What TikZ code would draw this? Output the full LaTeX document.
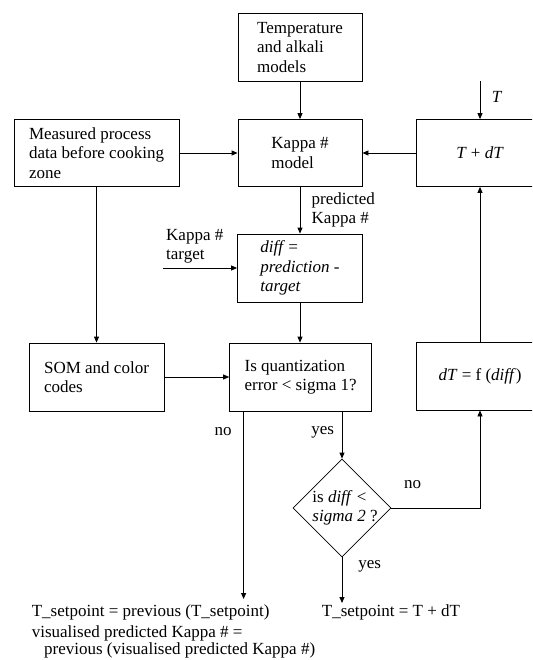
\documentclass[tikz,border=0pt]{standalone}
\usepackage{fontspec}
\setmainfont{Liberation Serif}
\usetikzlibrary{arrows.meta, positioning, shapes.geometric}
\newcommand{\flowfont}{\fontsize{17pt}{19.5pt}\selectfont}

\begin{document}
\begin{tikzpicture}[x=1pt, y=-1pt,
  block/.style={draw, line width=0.8pt, align=left, font=\flowfont, inner sep=2pt},
  decision/.style={draw, diamond, line width=0.8pt, minimum width=98pt, minimum height=98pt, inner sep=0pt},
  lbl/.style={font=\flowfont, inner sep=1pt},
  arr/.style={line width=0.8pt, -{Triangle[length=6pt, width=5pt]}}]
  \useasboundingbox (0,0) rectangle (532,660);
  \clip (0,0) rectangle (532,660);

  % Model blocks
  \node[block, minimum width=124pt, minimum height=68pt] (temp) at (300, 47.5) {Temperature\\and alkali\\models};
  \node[block, minimum width=124pt, minimum height=67pt] (kappa) at (300, 153) {Kappa \#\\model};
  \node[block, minimum width=165pt, minimum height=67pt] (meas) at (96.5, 153) {Measured process\\data before cooking\\zone};
  \node[block, minimum width=128pt, minimum height=67pt] (tdt) at (480, 153) {\textit{T} + \textit{dT}};

  % Difference and checks
  \node[block, minimum width=125pt, minimum height=68pt, font=\flowfont\itshape] (diff) at (300, 268) {diff =\\prediction -\\target};
  \node[block, minimum width=135pt, minimum height=68pt] (som) at (96.5, 377) {SOM and color\\codes};
  \node[block, minimum width=142pt, minimum height=68pt] (quant) at (300.6, 377) {Is quantization\\error < sigma 1?};
  \node[block, minimum width=128pt, minimum height=68pt] (dtf) at (480, 376) {\textit{dT} = f (\textit{diff})};
  \node[decision] (dec) at (342, 508) {};
  \node[lbl, align=left] (dectext) at ([xshift=3pt]dec.center) {is \textit{diff} <\\\textit{sigma 2} ?};

  % Results
  \node[lbl, anchor=north west, align=left] (noprev) at (30.6, 603) {T\_setpoint = previous (T\_setpoint)\\[1.5pt]visualised predicted Kappa \# =\\[-2.5pt]\hspace*{12.4pt}previous (visualised predicted Kappa \#)};
  \node[lbl, anchor=north west] (setdt) at (320.7, 603) {T\_setpoint = T + dT};

  % Labels
  \node[lbl] (tlbl) at (497, 97) {\textit{T}};
  \node[lbl, align=left, anchor=west] (pred) at (310.5, 210) {predicted\\Kappa \#};
  \node[lbl, align=left, anchor=west] (target) at (165, 246.5) {Kappa \#\\target};
  \node[lbl] (no1) at (223, 432) {no};
  \node[lbl] (yes1) at (322.7, 432) {yes};
  \node[lbl] (no2) at (412.5, 484.5) {no};
  \node[lbl] (yes2) at (369.7, 566.6) {yes};
  \coordinate (tin) at (480, 81.4);
  \coordinate (tgt) at (163, 268);

  % Connectors
  \draw[arr] (temp) -- (kappa);
  \draw[arr] (meas) -- (kappa);
  \draw[arr] (tdt) -- (kappa);
  \draw[arr] (tin) -- (tdt);
  \draw[arr] (kappa) -- (diff);
  \draw[arr] (tgt) -- (diff.west);
  \draw[arr] (diff) -- (diff |- quant.north);
  \draw[arr] (meas) -- (som);
  \draw[arr] (som) -- (quant);
  \draw[arr] (dtf) -- (tdt);
  \draw[arr] ([xshift=-57pt]quant.south) coordinate (qno) -- ([yshift=4pt]qno |- noprev.north);
  \draw[arr] (quant.south -| dec.north) -- (dec.north);
  \draw[arr] (dec.east) -| (dtf.south);
  \draw[arr] (dec.south) -- (dec.south |- setdt.north);
\end{tikzpicture}
\end{document}
